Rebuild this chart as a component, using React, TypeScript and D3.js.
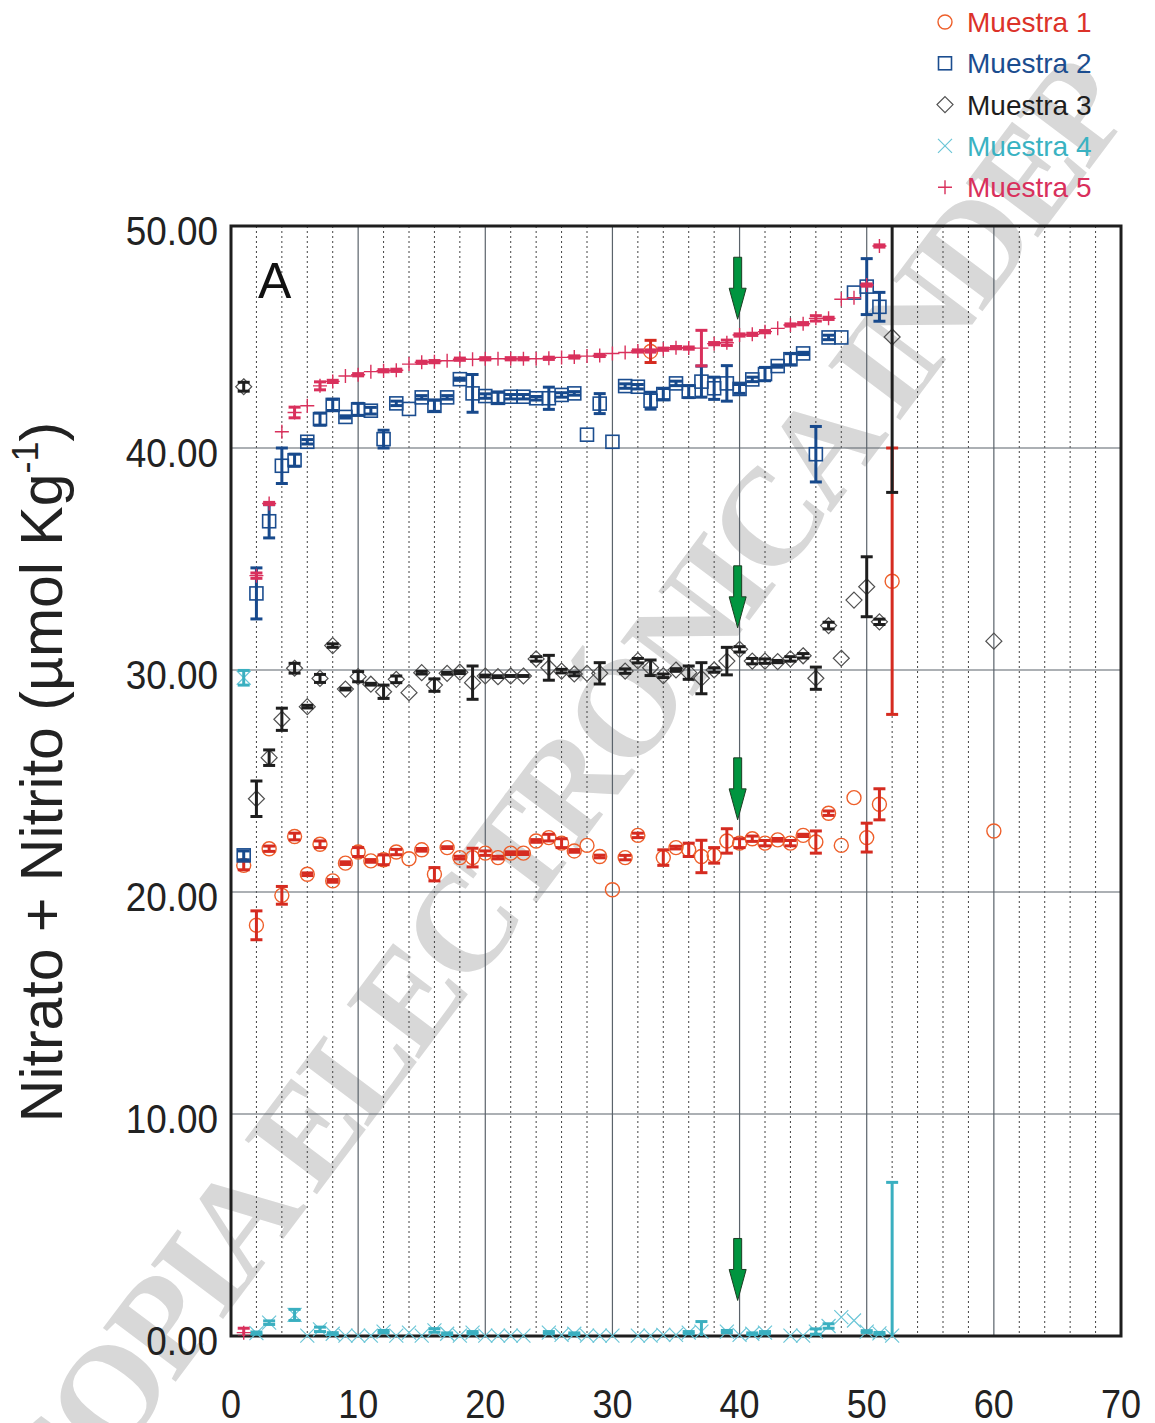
import * as d3 from 'd3';

// posiciones (días / estaciones) en el eje X
const days = [
  1, 2, 3, 4, 5, 6, 7, 8, 9, 10, 11, 12, 13, 14, 15, 16, 17, 18, 19, 20,
  21, 22, 23, 24, 25, 26, 27, 28, 29, 30, 31, 32, 33, 34, 35, 36, 37, 38, 39, 40,
  41, 42, 43, 44, 45, 46, 47, 48, 49, 50, 51, 52, 60,
];

type V = number | null;

const muestra1: V[] = [
  21.2, 18.5, 21.95, 19.85, 22.5, 20.8, 22.15, 20.5, 21.3, 21.8, 21.4, 21.45, 21.8, 21.5, 21.9, 20.8, 22.0, 21.55, 21.55, 21.75,
  21.55, 21.75, 21.75, 22.3, 22.45, 22.2, 21.85, 22.1, 21.6, 20.1, 21.55, 22.55, 44.35, 21.55, 22.0, 21.9, 21.6, 21.65, 22.3, 22.2,
  22.4, 22.2, 22.35, 22.2, 22.55, 22.25, 23.55, 22.1, 24.25, 22.45, 23.95, 34.0, 22.75,
];
const error1: number[] = [
  0.2, 0.65, 0.12, 0.4, 0.15, 0.06, 0.15, 0.06, 0.06, 0.2, 0.06, 0.22, 0.12, 0, 0.06, 0.3, 0.04, 0.06, 0.42, 0.1,
  0.06, 0.06, 0.06, 0.06, 0.15, 0.2, 0.06, 0, 0.06, 0, 0.1, 0.1, 0.5, 0.35, 0.06, 0.3, 0.73, 0.35, 0.55, 0.2,
  0.12, 0.12, 0.06, 0.12, 0.05, 0.5, 0.1, 0, 0, 0.65, 0.7, 6.0, 0,
];

const muestra2: V[] = [
  21.65, 33.45, 36.7, 39.2, 39.45, 40.28, 41.3, 41.94, 41.4, 41.74, 41.68, 40.4, 42.01, 41.76, 42.28, 41.9, 42.28, 43.1, 42.46, 42.34,
  42.26, 42.31, 42.31, 42.24, 42.24, 42.39, 42.46, 40.6, 42.0, 40.28, 42.79, 42.76, 42.13, 42.43, 42.91, 42.54, 42.99, 42.69, 42.91, 42.66,
  43.09, 43.33, 43.69, 44.0, 44.26, 39.72, 44.98, 44.98, 47.0, 47.27, 46.36, null, null,
];
const error2: number[] = [
  0.2, 1.15, 0.75, 0.8, 0.27, 0.1, 0.27, 0.25, 0.05, 0.27, 0.15, 0.4, 0.1, 0, 0.08, 0.25, 0.08, 0.05, 0.85, 0.1,
  0.25, 0.1, 0.1, 0.08, 0.5, 0.1, 0.08, 0, 0.45, 0, 0.1, 0.1, 0.38, 0.25, 0.1, 0.27, 0.7, 0.5, 0.8, 0.2,
  0.1, 0.3, 0.05, 0.25, 0.05, 1.25, 0.1, 0, 0, 1.26, 0.65, 0, 0,
];

const muestra3: V[] = [
  42.76, 24.2, 26.05, 27.78, 30.08, 28.35, 29.62, 31.1, 29.14, 29.7, 29.36, 29.02, 29.58, 28.98, 29.88, 29.32, 29.85, 29.9, 29.43, 29.73,
  29.7, 29.73, 29.73, 30.5, 30.1, 29.95, 29.82, 29.85, 29.85, null, 29.95, 30.42, 30.1, 29.74, 30.0, 29.88, 29.63, 30.0, 30.4, 30.93,
  30.4, 30.4, 30.38, 30.5, 30.64, 29.63, 32.0, 30.53, 33.15, 33.75, 32.17, 45.0, 31.3,
];
const error3: number[] = [
  0.2, 0.8, 0.35, 0.5, 0.22, 0.06, 0.18, 0.08, 0.04, 0.23, 0.04, 0.3, 0.15, 0, 0.06, 0.28, 0.04, 0.06, 0.75, 0.04,
  0.04, 0.02, 0.02, 0.1, 0.56, 0.08, 0.08, 0, 0.48, 0, 0.1, 0.1, 0.35, 0.08, 0.06, 0.3, 0.7, 0.1, 0.62, 0.12,
  0.12, 0.1, 0.05, 0.1, 0.1, 0.5, 0.15, 0, 0, 1.35, 0.12, 7.0, 0,
];

const muestra4: V[] = [
  29.65, 0.13, 0.6, null, 0.95, 0.02, 0.3, 0.1, 0.02, 0.02, 0.02, 0.2, 0.02, 0.15, 0.02, 0.25, 0.1, 0.02, 0.15, 0.02,
  0.02, 0.02, 0.02, null, 0.15, 0.05, 0.1, 0.02, 0.02, 0.02, null, 0.02, 0.02, 0.05, 0.05, 0.15, 0.2, null, 0.2, 0.05,
  0.1, 0.15, null, 0.02, 0.02, 0.2, 0.45, 0.85, 0.7, 0.2, 0.12, 0.02, null,
];
const error4: number[] = [
  0.33, 0.05, 0.08, 0, 0.25, 0, 0.1, 0.05, 0, 0, 0, 0.05, 0, 0, 0, 0.08, 0.04, 0, 0.05, 0,
  0, 0, 0, 0, 0.05, 0, 0.04, 0, 0, 0, 0, 0, 0, 0, 0, 0.05, 0.45, 0, 0.05, 0,
  0.04, 0.05, 0, 0, 0, 0.12, 0.1, 0, 0, 0.04, 0.04, 6.9, 0,
];

const muestra5: V[] = [
  0.15, 34.25, 37.5, 40.73, 41.6, 41.9, 42.8, 43.0, 43.24, 43.3, 43.44, 43.48, 43.5, 43.78, 43.86, 43.89, 43.93, 44.0, 44.0, 44.02,
  44.02, 44.02, 44.02, 44.02, 44.04, 44.08, 44.1, 44.14, 44.17, 44.26, 44.3, 44.37, 44.37, 44.45, 44.52, 44.5, 44.5, 44.7, 44.74, 45.09,
  45.12, 45.24, 45.39, 45.54, 45.6, 45.84, 45.84, 46.7, 46.77, 47.34, 49.1, null, null,
];
const error5: number[] = [
  0.2, 0.12, 0.05, 0, 0.24, 0, 0.18, 0.05, 0, 0.05, 0, 0.05, 0.05, 0, 0.05, 0.05, 0, 0.05, 0, 0.05,
  0, 0.05, 0.05, 0, 0.05, 0, 0.05, 0, 0.05, 0, 0, 0.05, 0.05, 0.05, 0.05, 0.05, 0.8, 0.05, 0.12, 0.05,
  0.05, 0.05, 0, 0.05, 0.05, 0.12, 0.05, 0, 0, 0.05, 0.05, 0, 0,
];

const xTicks = [0, 10, 20, 30, 40, 50, 60, 70];
const yTicks = [0, 10, 20, 30, 40, 50];
const arrowTips = [45.8, 31.9, 23.25, 1.6];
const arrowDay = 39.85;

const W = 1155;
const H = 1423;
const PLOT = { left: 231, right: 1121, top: 226, bottom: 1336 };

type Kind = 'circle' | 'square' | 'diamond' | 'x' | 'plus';

const series = [
  { name: 'Muestra 1', kind: 'circle' as Kind, values: muestra1, errs: error1, mark: '#ee5f2a', err: '#d52b20', text: '#dc3229' },
  { name: 'Muestra 2', kind: 'square' as Kind, values: muestra2, errs: error2, mark: '#1b4d8f', err: '#17498c', text: '#1b4d8f' },
  { name: 'Muestra 3', kind: 'diamond' as Kind, values: muestra3, errs: error3, mark: '#505050', err: '#1e1e1e', text: '#1e1e1e' },
  { name: 'Muestra 4', kind: 'x' as Kind, values: muestra4, errs: error4, mark: '#6cc6d7', err: '#3aafc0', text: '#3ab2c2' },
  { name: 'Muestra 5', kind: 'plus' as Kind, values: muestra5, errs: error5, mark: '#d9305c', err: '#d9305c', text: '#d9305c' },
];

const Marker = ({ kind, cx, cy, color }: { kind: Kind; cx: number; cy: number; color: string }) => {
  switch (kind) {
    case 'circle':
      return <circle cx={cx} cy={cy} r={7} fill="none" stroke={color} strokeWidth={1.4} />;
    case 'square':
      return <rect x={cx - 6.5} y={cy - 6.5} width={13} height={13} fill="none" stroke={color} strokeWidth={1.6} />;
    case 'diamond':
      return (
        <path
          d={`M${cx},${cy - 8}L${cx + 8},${cy}L${cx},${cy + 8}L${cx - 8},${cy}Z`}
          fill="none"
          stroke={color}
          strokeWidth={1.2}
        />
      );
    case 'x':
      return (
        <path
          d={`M${cx - 7},${cy - 7}L${cx + 7},${cy + 7}M${cx - 7},${cy + 7}L${cx + 7},${cy - 7}`}
          stroke={color}
          strokeWidth={1.2}
        />
      );
    default:
      return (
        <path d={`M${cx - 7},${cy}L${cx + 7},${cy}M${cx},${cy - 7}L${cx},${cy + 7}`} stroke={color} strokeWidth={1.4} />
      );
  }
};

export default function App() {
  const x = d3.scaleLinear().domain([0, 70]).range([PLOT.left, PLOT.right]);
  const y = d3.scaleLinear().domain([0, 50]).range([PLOT.bottom, PLOT.top]);

  const minorX = d3.range(2, 70, 2).filter((v) => v % 10 !== 0);
  const fmt = d3.format('.2f');
  const font = "'Liberation Sans', Arial, sans-serif";

  // marca de agua
  const wmAngle = -53;
  const wmStart = { x: 58, y: 1538 };

  return (
    <svg
      width={W}
      height={H}
      style={{ position: 'absolute', left: 0, top: 0, background: '#fff' }}
      fontFamily={font}
    >
      <defs>
        <clipPath id="plotClip">
          <rect x={PLOT.left} y={PLOT.top} width={PLOT.right - PLOT.left} height={PLOT.bottom - PLOT.top} />
        </clipPath>
      </defs>

      {/* Marca de agua */}
      <text
        transform={`translate(${wmStart.x},${wmStart.y}) rotate(${wmAngle})`}
        fontFamily="'Liberation Serif', 'DejaVu Serif', serif"
        fontWeight="bold"
        fontSize={138}
        fill="#d8d8d8"
        textLength={1795}
        lengthAdjust="spacing"
      >
        COPIA ELECTRÓNICA INDEP
      </text>

      {/* Rejilla */}
      <g>
        {minorX.map((v) => (
          <line key={`m${v}`} x1={x(v)} x2={x(v)} y1={PLOT.top} y2={PLOT.bottom} stroke="#444" strokeWidth={1} strokeDasharray="2,3" />
        ))}
        {xTicks.slice(1, -1).map((v) => (
          <line key={`gx${v}`} x1={x(v)} x2={x(v)} y1={PLOT.top} y2={PLOT.bottom} stroke="#5b636b" strokeWidth={1.2} />
        ))}
        {yTicks.slice(1, -1).map((v) => (
          <line key={`gy${v}`} x1={PLOT.left} x2={PLOT.right} y1={y(v)} y2={y(v)} stroke="#5b636b" strokeWidth={1.2} />
        ))}
      </g>

      {/* Marco */}
      <rect
        x={PLOT.left}
        y={PLOT.top}
        width={PLOT.right - PLOT.left}
        height={PLOT.bottom - PLOT.top}
        fill="none"
        stroke="#1e1e1e"
        strokeWidth={3}
      />

      {/* Datos */}
      {series.map((s) => (
        <g key={s.name}>
          {s.values.map((v, i) => {
            if (v === null) return null;
            const e = s.errs[i];
            const cx = x(days[i]);
            const cy = y(v);
            return (
              <g key={i}>
                <Marker kind={s.kind} cx={cx} cy={cy} color={s.mark} />
                {e > 0 && (
                  <g stroke={s.err} strokeWidth={3} clipPath="url(#plotClip)">
                    <line x1={cx} x2={cx} y1={y(v + e)} y2={y(v - e)} />
                    <line x1={cx - 6} x2={cx + 6} y1={y(v + e)} y2={y(v + e)} />
                    <line x1={cx - 6} x2={cx + 6} y1={y(v - e)} y2={y(v - e)} />
                  </g>
                )}
              </g>
            );
          })}
        </g>
      ))}

      {/* Flechas verdes */}
      {arrowTips.map((t, i) => {
        const cx = x(arrowDay);
        const ty = y(t);
        const pts = [
          [cx, ty],
          [cx - 8.5, ty - 31],
          [cx - 4, ty - 31],
          [cx - 4, ty - 62],
          [cx + 4, ty - 62],
          [cx + 4, ty - 31],
          [cx + 8.5, ty - 31],
        ];
        return <polygon key={i} points={pts.map((p) => p.join(',')).join(' ')} fill="#00953f" stroke="#1c3d22" strokeWidth={1} />;
      })}

      {/* Etiquetas del eje Y */}
      {yTicks.map((v) => (
        <text
          key={`ly${v}`}
          transform={`translate(218,${y(v) + 19}) scale(0.9,1)`}
          textAnchor="end"
          fontSize={41}
          fill="#222"
        >
          {fmt(v)}
        </text>
      ))}

      {/* Etiquetas del eje X */}
      {xTicks.map((v) => (
        <text
          key={`lx${v}`}
          transform={`translate(${x(v)},1418) scale(0.9,1)`}
          textAnchor="middle"
          fontSize={40}
          fill="#222"
        >
          {v}
        </text>
      ))}

      {/* Título del eje Y */}
      <text transform="translate(62,772) rotate(-90)" textAnchor="middle" fontSize={59} fill="#222">
        Nitrato + Nitrito (µmol Kg
        <tspan dy={-24} fontSize={36}>-1</tspan>
        <tspan dy={24}>)</tspan>
      </text>

      <text x={258} y={298} fontSize={50} fill="#111">
        A
      </text>

      {/* Leyenda */}
      {series.map((s, i) => {
        const ly = 22 + i * 41.3;
        return (
          <g key={`lg${s.name}`}>
            <Marker kind={s.kind} cx={945} cy={ly} color={s.mark} />
            <text x={967} y={ly + 10} fontSize={28} fill={s.text}>
              {s.name}
            </text>
          </g>
        );
      })}
    </svg>
  );
}
